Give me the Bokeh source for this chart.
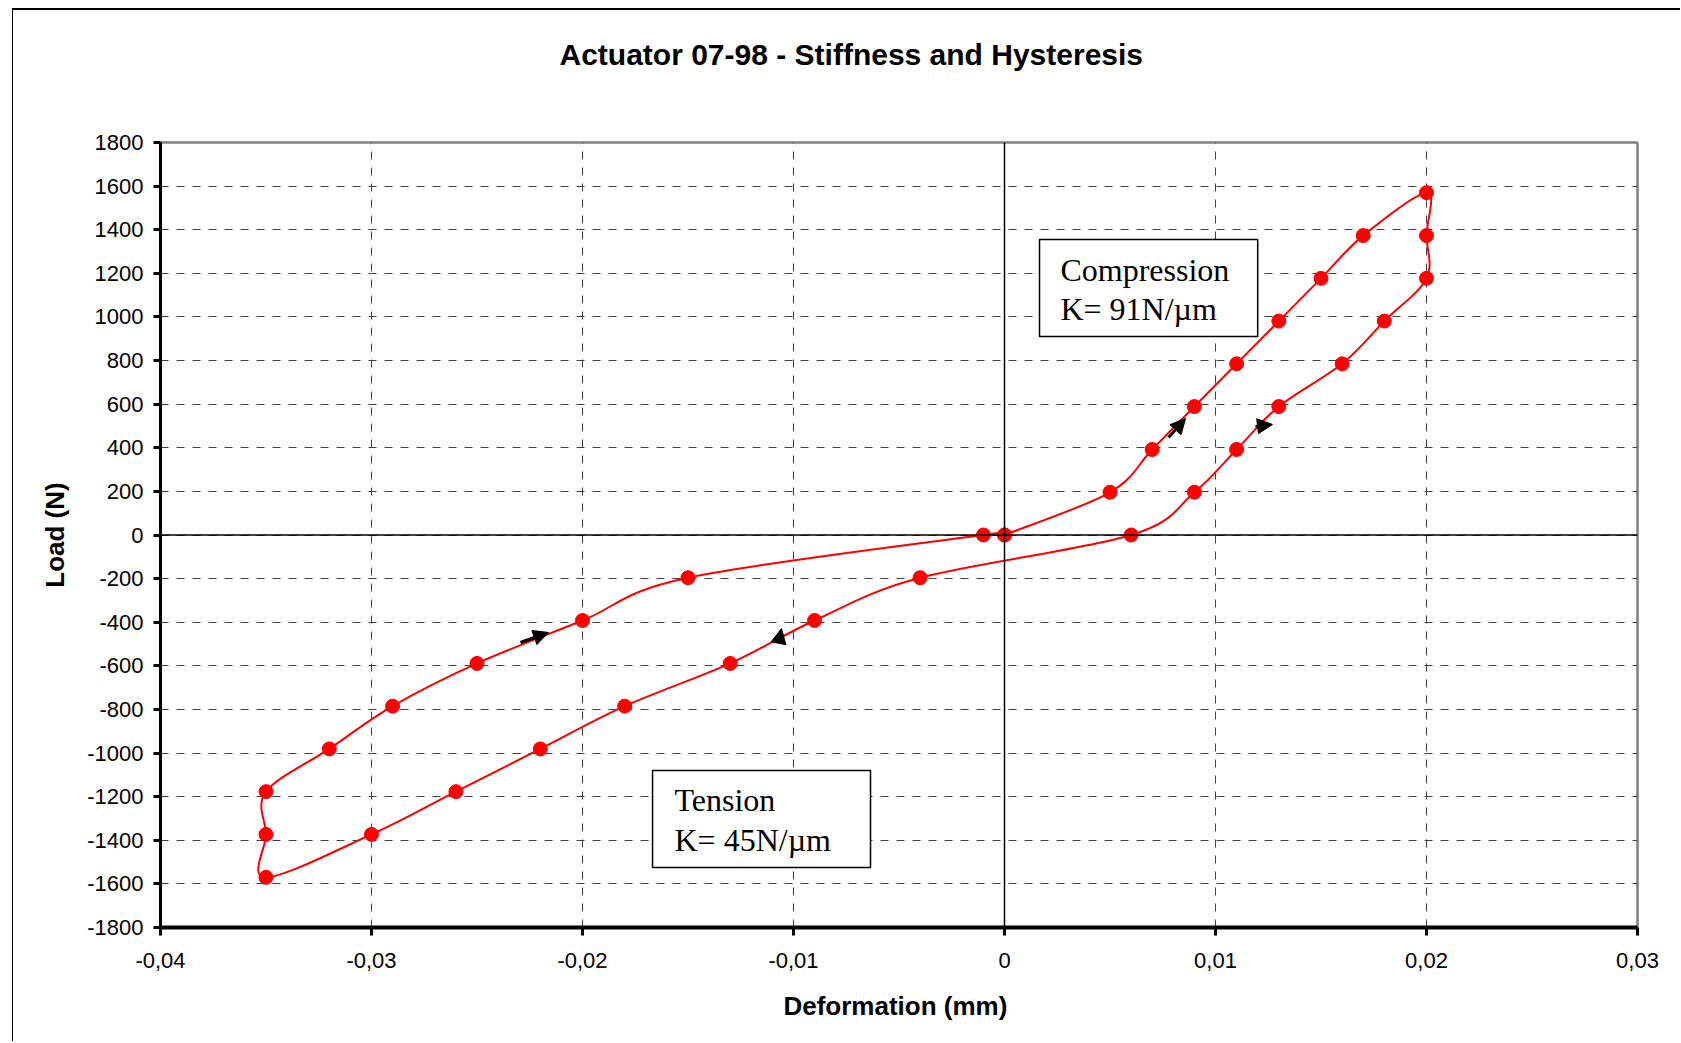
from bokeh.plotting import figure
from bokeh.models import (FixedTicker, Span, Label, BoxAnnotation, Arrow, NormalHead,
                          ColumnDataSource, Range1d, Title)
from bokeh.embed import file_html
from bokeh.resources import INLINE

# ---------------- data ----------------
deformation_mm = [0.000, 0.005, 0.007, 0.009, 0.011, 0.013, 0.015, 0.017, 0.020,
                  0.020, 0.020, 0.018, 0.016, 0.013, 0.011, 0.009, 0.006,
                  -0.004, -0.009, -0.013, -0.018, -0.022, -0.026, -0.030, -0.035,
                  -0.035, -0.035, -0.032, -0.029, -0.025, -0.020, -0.015, -0.001, 0.000]
load_N = [0, 196, 392, 589, 785, 981, 1177, 1373, 1570,
          1373, 1177, 981, 785, 589, 392, 196, 0,
          -196, -392, -589, -785, -981, -1177, -1373, -1570,
          -1373, -1177, -981, -785, -589, -392, -196, 0, 0]

x_ticks = [-0.04, -0.03, -0.02, -0.01, 0.0, 0.01, 0.02, 0.03]
x_tick_labels = ["-0,04", "-0,03", "-0,02", "-0,01", "0", "0,01", "0,02", "0,03"]
y_ticks = [-1800, -1600, -1400, -1200, -1000, -800, -600, -400, -200, 0,
           200, 400, 600, 800, 1000, 1200, 1400, 1600, 1800]
y_tick_labels = ["-1800", "-1600", "-1400", "-1200", "-1000", "-800", "-600", "-400", "-200", "0",
                 "200", "400", "600", "800", "1000", "1200", "1400", "1600", "1800"]

# direction arrows (tail -> head)
arrow_x_tail = [0.00777, 0.01190, -0.01069, -0.02294]
arrow_y_tail = [447, 498, -488, -493]
arrow_x_head = [0.00858, 0.01270, -0.01057, -0.02161]
arrow_y_head = [534, 507, -429, -447]

title_text = "Actuator 07-98 - Stiffness and Hysteresis"
comp_lines = ["Compression", "K= 91N/\u00b5m"]
tens_lines = ["Tension", "K= 45N/\u00b5m"]

# ---------------- figure ----------------
W, H = 1668, 1033
p = figure(width=W, height=H, output_backend="svg", toolbar_location=None,
           x_range=Range1d(-0.04, 0.03), y_range=Range1d(-1800, 1800),
           min_border_left=147, min_border_right=44, min_border_top=132, min_border_bottom=116,
           background_fill_color="white", border_fill_color="white",
           title=title_text)
p.styles = {"margin-left": "12px", "margin-top": "8px",
            "border-left": "1px solid black", "border-top": "2px solid black"}

FONT = "Liberation Sans"
p.title.text_font = FONT
p.title.text_font_size = "30px"
p.title.text_font_style = "bold"
p.title.text_color = "black"
p.title.align = "left"
p.title.offset = 399
p.title.standoff = 10

# blank spacer between the title and the plot frame
p.add_layout(Title(text=" ", text_font_size="1px", standoff=64), "above")

p.outline_line_color = "#808080"
p.outline_line_width = 2.5

# axes
for ax in (p.xaxis[0], p.yaxis[0]):
    ax.axis_line_color = "black"
    ax.major_tick_line_color = "black"
    ax.major_tick_in = 0
    ax.minor_tick_in = 0
    ax.minor_tick_out = 0
    ax.major_label_text_font = FONT
    ax.major_label_text_font_size = "22px"
    ax.major_label_text_color = "black"
    ax.axis_label_text_font = FONT
    ax.axis_label_text_font_size = "26px"
    ax.axis_label_text_font_style = "bold"
    ax.axis_label_text_color = "black"

p.xaxis.ticker = FixedTicker(ticks=x_ticks)
p.xaxis.major_label_overrides = {t: l for t, l in zip(x_ticks, x_tick_labels)}
p.xaxis.axis_line_width = 4
p.xaxis.major_tick_line_width = 3
p.xaxis.major_tick_out = 8
p.xaxis.major_label_standoff = 17
p.xaxis.axis_label = "Deformation  (mm)"
p.xaxis.axis_label_standoff = 20

p.yaxis.ticker = FixedTicker(ticks=y_ticks)
p.yaxis.major_label_overrides = {t: l for t, l in zip(y_ticks, y_tick_labels)}
p.yaxis.axis_line_width = 3
p.yaxis.major_tick_line_width = 3
p.yaxis.major_tick_out = 7
p.yaxis.major_label_standoff = 10
p.yaxis.axis_label = "Load (N)"
p.yaxis.axis_label_standoff = 14

# grid
p.xgrid.ticker = FixedTicker(ticks=x_ticks)
p.ygrid.ticker = FixedTicker(ticks=y_ticks)
for g in (p.xgrid[0], p.ygrid[0]):
    g.grid_line_color = "#404040"
    g.grid_line_dash = "8 8"
    g.grid_line_width = 1

# zero lines
p.add_layout(Span(location=0, dimension="height", line_color="black", line_width=1.5))
p.add_layout(Span(location=0, dimension="width", line_color="black", line_width=1.5))

# smoothed curve (Catmull-Rom style bezier through the measured points)
n = len(deformation_mm)
bx0, by0, bx1, by1, bcx0, bcy0, bcx1, bcy1 = ([] for _ in range(8))
for i in range(n - 1):
    a = i - 1 if i > 0 else i
    d = i + 2 if i + 2 < n else i + 1
    bx0.append(deformation_mm[i]); by0.append(load_N[i])
    bx1.append(deformation_mm[i + 1]); by1.append(load_N[i + 1])
    bcx0.append(deformation_mm[i] + (deformation_mm[i + 1] - deformation_mm[a]) / 6)
    bcy0.append(load_N[i] + (load_N[i + 1] - load_N[a]) / 6)
    bcx1.append(deformation_mm[i + 1] - (deformation_mm[d] - deformation_mm[i]) / 6)
    bcy1.append(load_N[i + 1] - (load_N[d] - load_N[i]) / 6)
p.bezier(x0=bx0, y0=by0, x1=bx1, y1=by1, cx0=bcx0, cy0=bcy0, cx1=bcx1, cy1=bcy1,
         line_color="#ff0000", line_width=2)

p.scatter(deformation_mm, load_N, marker="circle", size=14,
          fill_color="#ff0000", line_color="#ff0000")

# arrows
asrc = ColumnDataSource(dict(x0=arrow_x_tail, y0=arrow_y_tail, x1=arrow_x_head, y1=arrow_y_head))
p.add_layout(Arrow(end=NormalHead(size=15, fill_color="black", line_color="black", line_width=1),
                   x_start="x0", y_start="y0", x_end="x1", y_end="y1", source=asrc,
                   line_color="black", line_width=3))

# annotation boxes
p.add_layout(BoxAnnotation(left=0.00166, right=0.01200, top=1355, bottom=910,
                           fill_color="white", fill_alpha=1.0,
                           line_color="black", line_alpha=1.0, line_width=1.5))
p.add_layout(BoxAnnotation(left=-0.01668, right=-0.00635, top=-1080, bottom=-1525,
                           fill_color="white", fill_alpha=1.0,
                           line_color="black", line_alpha=1.0, line_width=1.5))
SERIF = "Liberation Serif"
for txt, yy in zip(comp_lines, [1217, 1036]):
    p.add_layout(Label(x=0.00265, y=yy, text=txt, text_font=SERIF, text_font_size="32px",
                       text_baseline="alphabetic", text_color="black"))
for txt, yy in zip(tens_lines, [-1215, -1400]):
    p.add_layout(Label(x=-0.01564, y=yy, text=txt, text_font=SERIF, text_font_size="32px",
                       text_baseline="alphabetic", text_color="black"))

open("out.html", "w").write(file_html(p, INLINE))
